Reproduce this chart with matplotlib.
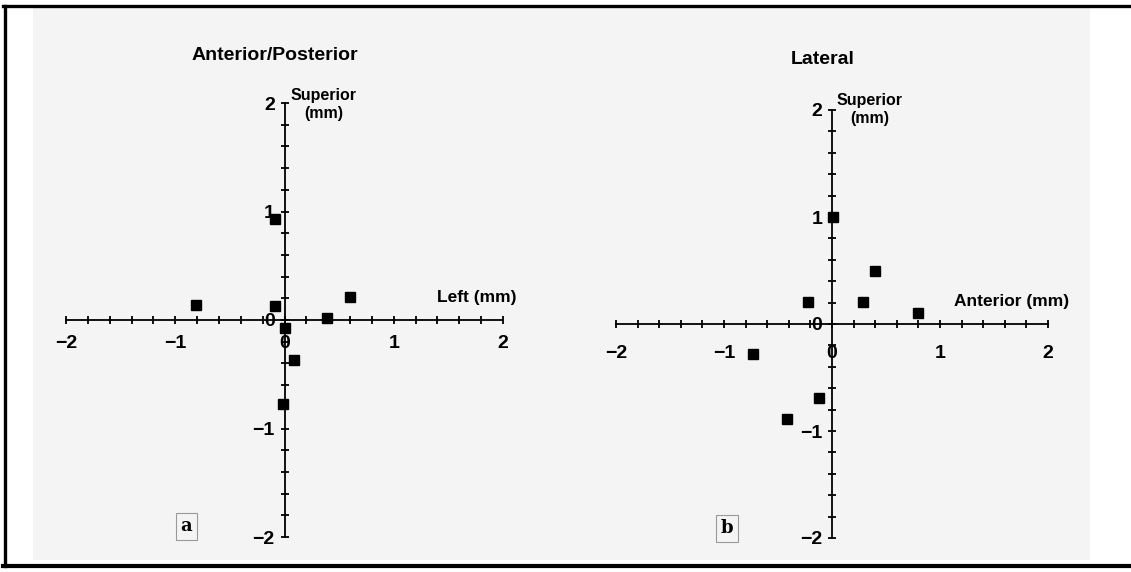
import numpy as np
import matplotlib
matplotlib.use("Agg")
import matplotlib.pyplot as plt
from matplotlib.patches import Rectangle
from matplotlib.lines import Line2D

plt.rcParams['font.family'] = ['Liberation Sans', 'DejaVu Sans']
plt.rcParams['font.weight'] = 'bold'

# -------------------- data (mm) --------------------
ap_x = [-0.09, -0.81, -0.09, 0.60, 0.39, 0.00, 0.09, -0.01]
ap_y = [0.93, 0.14, 0.13, 0.21, 0.02, -0.07, -0.37, -0.77]

lat_x = [0.01, 0.40, -0.22, 0.29, 0.80, -0.73, -0.12, -0.42]
lat_y = [1.00, 0.50, 0.21, 0.21, 0.10, -0.28, -0.69, -0.89]

tick_pos = np.round(np.arange(-2, 2.01, 0.2), 1)

W, H = 1131, 572
fig = plt.figure(figsize=(W / 100, H / 100), dpi=100)
fig.patch.set_facecolor("white")

# scanned page background + frame
fig.add_artist(Rectangle((33 / W, 1 - 560 / H), (1090 - 33) / W, (560 - 8) / H,
                         transform=fig.transFigure, facecolor="#f4f4f4",
                         edgecolor="none", zorder=0))
fig.add_artist(Line2D([3 / W, 1], [1 - 5.5 / H] * 2, transform=fig.transFigure,
                      color="black", lw=2.4))
fig.add_artist(Line2D([4.5 / W] * 2, [1 - 5.5 / H, 1 - 566 / H],
                      transform=fig.transFigure, color="black", lw=2.4))
fig.add_artist(Line2D([3 / W, 1], [1 - 566 / H] * 2, transform=fig.transFigure,
                      color="black", lw=3))


def cross_axes(rect, xs, ys, title, title_xy, ylab_xy, xlab, xlab_xy, letter,
               letter_xy, xpad):
    ax = fig.add_axes(rect)
    ax.patch.set_alpha(0)
    ax.set_xlim(-2, 2)
    ax.set_ylim(-2, 2)
    for s in ["top", "right"]:
        ax.spines[s].set_visible(False)
    ax.spines["left"].set_position(("data", 0))
    ax.spines["bottom"].set_position(("data", 0))
    for s in ["left", "bottom"]:
        ax.spines[s].set_linewidth(1.3)
    labels = []
    for t in tick_pos:
        if abs(t - round(t)) < 1e-9:
            labels.append(str(int(round(t))).replace("-", "\u2212"))
        else:
            labels.append("")
    ax.set_xticks(tick_pos)
    ax.set_xticklabels(labels)
    ax.set_yticks(tick_pos)
    ax.set_yticklabels(labels)
    ax.tick_params(direction="inout", length=6, width=1.3, labelsize=14)
    ax.tick_params(axis="x", pad=xpad)
    ax.tick_params(axis="y", pad=4)
    ax.plot(xs, ys, "s", color="black", ms=7, clip_on=False)

    ax.text(*title_xy, title, ha="center", va="center", fontsize=14,
            fontweight="bold", clip_on=False)
    ax.text(*ylab_xy, "Superior\n(mm)", ha="center", va="center", fontsize=11.5,
            fontweight="bold", linespacing=1.25)
    ax.text(*xlab_xy, xlab, ha="center", va="center", fontsize=12.5,
            fontweight="bold")
    ax.text(*letter_xy, letter, ha="center", va="center", fontsize=13,
            fontweight="bold", family="DejaVu Serif",
            bbox=dict(boxstyle="square,pad=0.25", fc="none", ec="#999999",
                      lw=0.8))
    return ax


cross_axes([66 / W, 35 / H, 437 / W, 434 / H], ap_x, ap_y,
           "Anterior/Posterior", (-0.09, 2.44), (0.36, 1.99),
           "Left (mm)", (1.76, 0.21), "a", (-0.90, -1.90), 8)

cross_axes([616 / W, 34 / H, 432 / W, 428 / H], lat_x, lat_y,
           "Lateral", (-0.09, 2.47), (0.35, 2.0),
           "Anterior (mm)", (1.66, 0.21), "b", (-0.97, -1.91), 12)

plt.savefig("out.png", dpi=100)
